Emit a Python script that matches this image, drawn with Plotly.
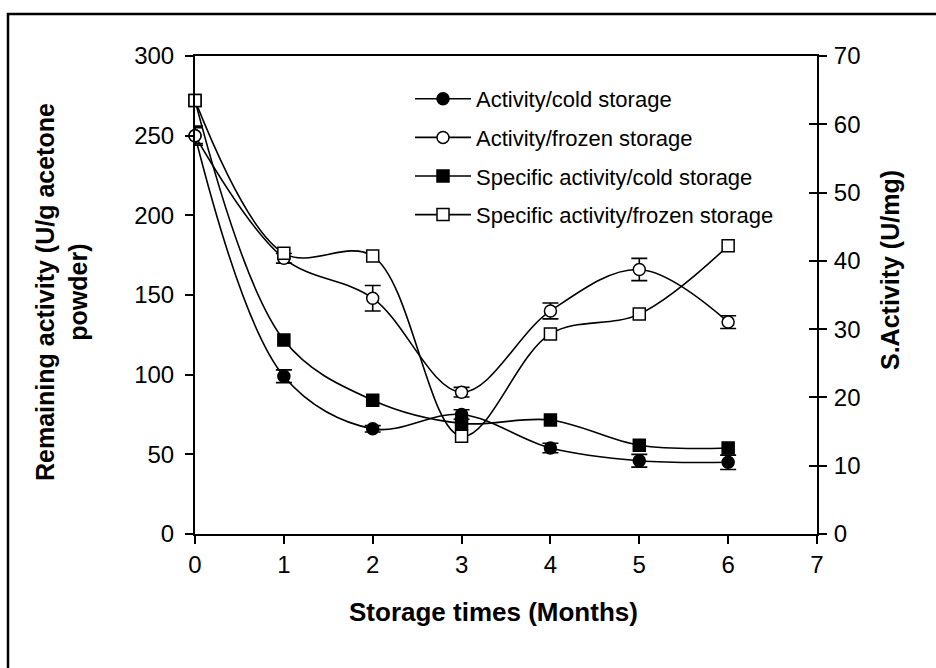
import plotly.graph_objects as go

# Storage time in months
months = [0, 1, 2, 3, 4, 5, 6]

# Remaining activity (U/g acetone powder), left axis
activity_cold = [250, 99, 66, 75, 54, 46, 45]
activity_cold_err = [5, 4, 2, 3, 3, 4, 4.5]
activity_frozen = [250, 173, 148, 89, 140, 166, 133]
activity_frozen_err = [6, 3, 8, 3, 5, 7, 4]

# Specific activity (U/mg), right axis
spec_cold = [63.5, 28.4, 19.6, 16.2, 16.7, 13.0, 12.6]
spec_frozen = [63.5, 41.1, 40.7, 14.3, 29.3, 32.2, 42.2]

names = [
    "Activity/cold storage",
    "Activity/frozen storage",
    "Specific activity/cold storage",
    "Specific activity/frozen storage",
]

FONT = "Liberation Sans, Arial, sans-serif"
line_style = dict(color="black", width=1.6, shape="spline", smoothing=1.0)

fig = go.Figure()

def err(vals):
    return dict(type="data", array=vals, visible=True, color="black",
                thickness=1.6, width=8)

fig.add_trace(go.Scatter(
    x=months, y=activity_cold, name=names[0], mode="lines+markers",
    line=line_style, legendgroup="a", cliponaxis=False,
    marker=dict(symbol="circle", size=12, color="black",
                line=dict(color="black", width=1.5)),
    error_y=err(activity_cold_err)))
fig.add_trace(go.Scatter(
    x=months, y=activity_frozen, name=names[1], mode="lines+markers",
    line=line_style, legendgroup="b", cliponaxis=False,
    marker=dict(symbol="circle", size=12, color="white",
                line=dict(color="black", width=1.5)),
    error_y=err(activity_frozen_err)))
fig.add_trace(go.Scatter(
    x=months, y=spec_cold, name=names[2], mode="lines+markers",
    line=line_style, legendgroup="c", cliponaxis=False, yaxis="y2",
    marker=dict(symbol="square", size=12, color="black",
                line=dict(color="black", width=1.5))))
fig.add_trace(go.Scatter(
    x=months, y=spec_frozen, name=names[3], mode="lines+markers",
    line=line_style, legendgroup="d", cliponaxis=False, yaxis="y2",
    marker=dict(symbol="square", size=12, color="white",
                line=dict(color="black", width=1.5))))

W, H = 936, 668
L, R, T, B = 195, 817, 56, 534
pw, ph = R - L, B - T

def px(xp):
    return (xp - L) / pw

def py(yp):
    return (B - yp) / ph

axis_common = dict(showline=True, linecolor="black", linewidth=2,
                   ticks="outside", tickcolor="black", tickwidth=1.5,
                   ticklen=8, showgrid=False, zeroline=False,
                   tickfont=dict(family=FONT, size=24, color="black"))

fig.update_layout(
    width=W, height=H,
    margin=dict(l=L, r=W - R, t=T, b=H - B),
    paper_bgcolor="white", plot_bgcolor="white",
    font=dict(family=FONT, color="black"),
    xaxis=dict(range=[0, 7], dtick=1, mirror=True, **axis_common),
    yaxis=dict(range=[0, 300], dtick=50, ticklabelstandoff=6, **axis_common),
    yaxis2=dict(range=[0, 70], dtick=10, overlaying="y", side="right",
                ticklabelstandoff=2, **axis_common),
    yaxis3=dict(range=[0, 70], dtick=10, overlaying="y", side="right",
                showline=False, ticks="inside", ticklen=8, tickwidth=1.5,
                tickcolor="black", showticklabels=False, showgrid=False,
                zeroline=False),
    legend=dict(x=px(410), y=py(78), xanchor="left", yanchor="top",
                bgcolor="rgba(0,0,0,0)", borderwidth=0,
                font=dict(family=FONT, size=22, color="black"),
                traceorder="grouped", tracegroupgap=7, itemwidth=56),
    showlegend=True,
)

# tick marks pointing into the plot on the right axis
fig.add_trace(go.Scatter(x=[None], y=[None], yaxis="y3", showlegend=False,
                         hoverinfo="skip"))

# axis titles
fig.add_annotation(text="<b>Storage times (Months)</b>", xref="paper",
                   yref="paper", x=px(493), y=py(612), xanchor="center",
                   yanchor="middle", showarrow=False,
                   font=dict(family=FONT, size=26, color="black"))
fig.add_annotation(text="<b>Remaining activity (U/g acetone<br>powder)</b>",
                   xref="paper", yref="paper", x=px(61), y=py(292),
                   xanchor="center", yanchor="middle",
                   textangle=-90, showarrow=False,
                   font=dict(family=FONT, size=25, color="black"))
fig.add_annotation(text="<b>S.Activity (U/mg)</b>", xref="paper",
                   yref="paper", x=px(890), y=py(270), textangle=-90,
                   xanchor="center", yanchor="middle", showarrow=False,
                   font=dict(family=FONT, size=25, color="black"))

# outer frame
fig.add_shape(type="rect", xref="paper", yref="paper",
              x0=px(8), x1=px(1000), y0=py(720), y1=py(14),
              line=dict(color="black", width=2.5), layer="below")

fig.write_html("out.html")
